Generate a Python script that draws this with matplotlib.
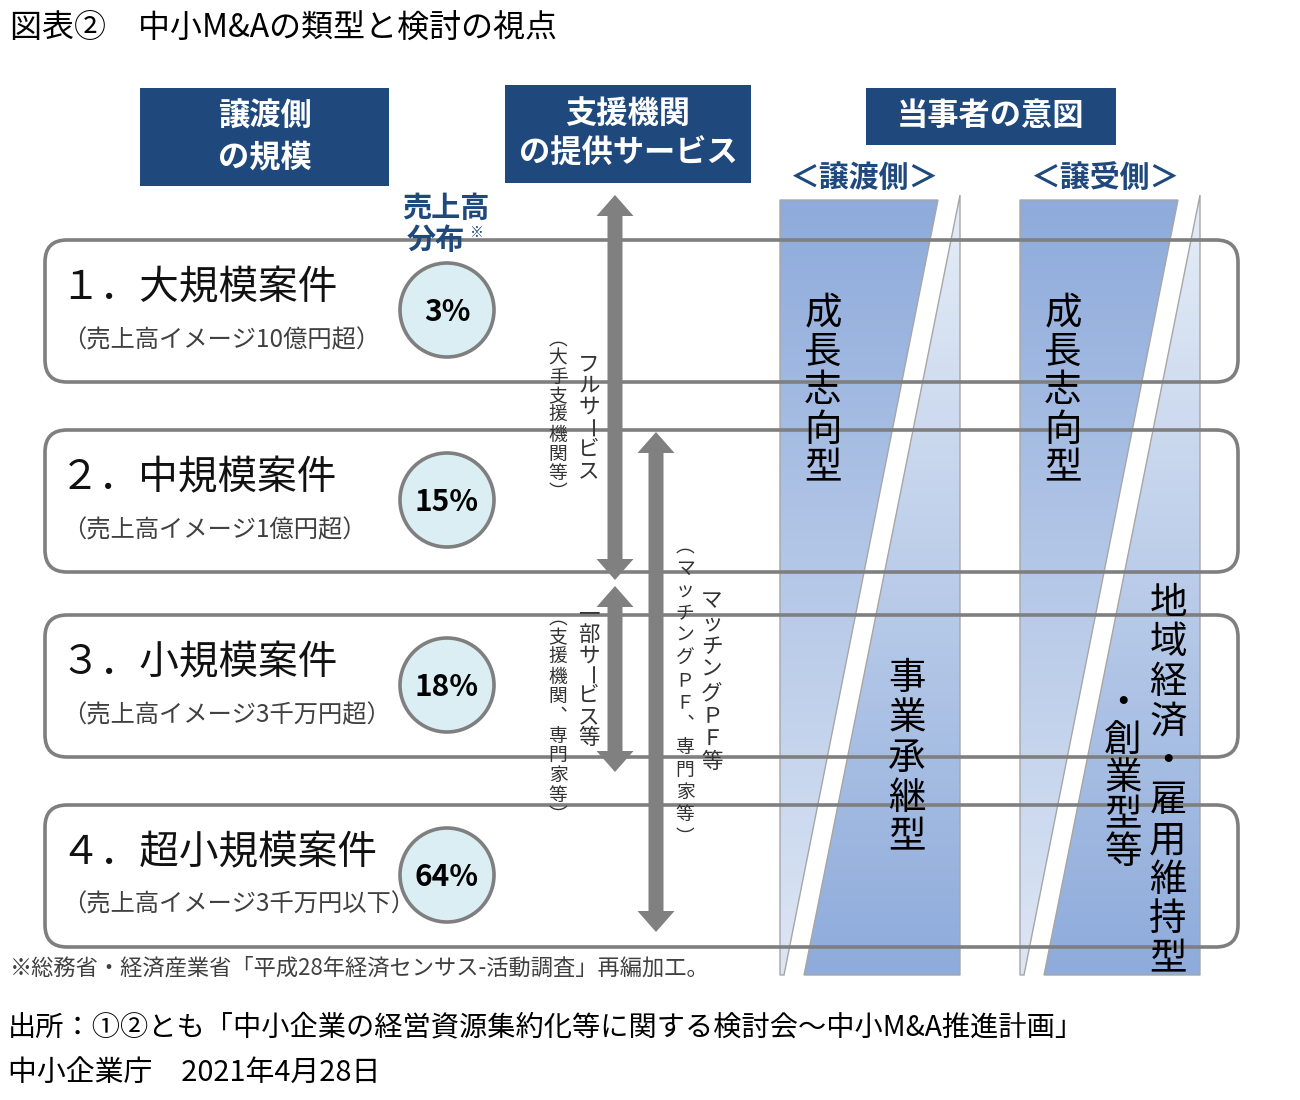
import numpy as np
import matplotlib
matplotlib.use("Agg")
import matplotlib.pyplot as plt
from matplotlib.patches import FancyBboxPatch, Circle, Rectangle, Polygon
from matplotlib.colors import LinearSegmentedColormap

plt.rcParams['font.family'] = ['Noto Sans CJK JP', 'DejaVu Sans']

# -----------------------------
# DATA
# -----------------------------
title = "図表②　中小M&Aの類型と検討の視点"
headers = ["譲渡側\nの規模", "支援機関\nの提供サービス", "当事者の意図"]
sides = ["＜譲渡側＞", "＜譲受側＞"]
share_label = ["売上高", "分布"]

case_titles = ["１．大規模案件", "２．中規模案件", "３．小規模案件", "４．超小規模案件"]
case_subs = ["（売上高イメージ10億円超）", "（売上高イメージ1億円超）",
             "（売上高イメージ3千万円超）", "（売上高イメージ3千万円以下）"]
sales_share = [3, 15, 18, 64]

services = ["フルサービス", "一部サービス等", "マッチングＰＦ等"]
service_notes = ["（大手支援機関等）", "（支援機関、専門家等）", "（マッチングＰＦ、専門家等）"]

seller_intent = ["成長志向型", "事業承継型"]
buyer_intent = ["成長志向型", "地域経済・雇用維持型", "・創業型等"]

footnote = "※総務省・経済産業省「平成28年経済センサス-活動調査」再編加工。"
source = ["出所：①②とも「中小企業の経営資源集約化等に関する検討会～中小M&A推進計画」",
          "中小企業庁　2021年4月28日"]

# -----------------------------
# LAYOUT / STYLE
# -----------------------------
NAVY = "#1F497D"
GRAY = "#7F7F7F"
DARK_BLUE = "#8EABDB"
LIGHT_BLUE = "#DDE6F4"

row_tops = [240, 430, 615, 805]
row_h = 142
row_x0, row_x1 = 45, 1238

# vertical-writing forms of some characters
VFORM = {"（": "︵", "）": "︶", "、": "︑"}

fig = plt.figure(figsize=(13, 11), dpi=100)
ax = fig.add_axes([0, 0, 1, 1])
ax.set_xlim(0, 1300)
ax.set_ylim(1100, 0)
ax.axis("off")


def vtext(x, y0, s, pitch, size, color="black", weight="normal", z=6):
    # stack characters top to bottom (Japanese vertical writing)
    for i, ch in enumerate(s):
        y = y0 + i * pitch
        rot = -90 if ch == "ー" else 0
        ch = VFORM.get(ch, ch)
        ax.text(x, y, ch, rotation=rot, rotation_mode="anchor",
                ha="center", va="center", fontsize=size, color=color,
                fontweight=weight, zorder=z)


def double_arrow(x, y_top, y_bot, shaft=15, head_w=37, head_l=21):
    pts = [(x, y_top), (x + head_w / 2, y_top + head_l), (x + shaft / 2, y_top + head_l),
           (x + shaft / 2, y_bot - head_l), (x + head_w / 2, y_bot - head_l), (x, y_bot),
           (x - head_w / 2, y_bot - head_l), (x - shaft / 2, y_bot - head_l),
           (x - shaft / 2, y_top + head_l), (x - head_w / 2, y_top + head_l)]
    ax.add_patch(Polygon(pts, closed=True, fc="#808080", ec="none", zorder=5))


def grad_poly(pts, c_top, c_bot, x0, x1, y_top, y_bot):
    poly = Polygon(pts, closed=True, fc="none", ec="#A6A6A6", lw=1, zorder=2)
    ax.add_patch(poly)
    cmap = LinearSegmentedColormap.from_list("g", [c_top, c_bot])
    grad = np.linspace(0, 1, 256)[:, None]
    im = ax.imshow(grad, cmap=cmap, extent=(x0, x1, y_bot, y_top), origin="upper",
                   aspect="auto", zorder=1, interpolation="bilinear")
    im.set_clip_path(poly)


# title
ax.text(10, 28, title, fontsize=23, ha="left", va="center")

# header boxes
for (x0, y0, w, h), txt in zip([(140, 88, 249, 98), (505, 85, 246, 98), (866, 88, 250, 57)], headers):
    ax.add_patch(Rectangle((x0, y0), w, h, fc=NAVY, ec="none", zorder=3))
    lines = txt.split("\n")
    for j, ln in enumerate(lines):
        yy = y0 + h / 2 + (j - (len(lines) - 1) / 2) * 40
        ax.text(x0 + w / 2, yy, ln, color="white", fontsize=22.5, fontweight="bold",
                ha="center", va="center", zorder=4)

for cx, s in zip([865, 1106], sides):
    ax.text(cx, 178, s, color=NAVY, fontsize=21.5, fontweight="bold", ha="center", va="center")

ax.text(446, 208, share_label[0], color=NAVY, fontsize=21, fontweight="bold", ha="center", va="center")
ax.text(436, 240, share_label[1], color=NAVY, fontsize=21, fontweight="bold", ha="center", va="center", zorder=6)
ax.text(477, 233, "※", color=NAVY, fontsize=10, ha="center", va="center", zorder=6)

# intent columns (gradient shapes split by a white slash)
for off in [0, 240]:
    x0, x1 = 780 + off, 960 + off
    grad_poly([(x0, 200), (938 + off, 200), (784 + off, 975), (x0, 975)],
              DARK_BLUE, LIGHT_BLUE, x0, x1, 200, 975)
    grad_poly([(x1, 195), (x1, 975), (804 + off, 975)],
              "#E6EDF7", DARK_BLUE, x0, x1, 195, 975)

# row boxes
for top, t, sub, pct in zip(row_tops, case_titles, case_subs, sales_share):
    ax.add_patch(FancyBboxPatch((row_x0, top), row_x1 - row_x0, row_h,
                                boxstyle="round,pad=0,rounding_size=22",
                                fc="none", ec=GRAY, lw=2.6, zorder=3))
    ax.text(60, top + 48, t, fontsize=28.5, ha="left", va="center", color="#111111", zorder=6)
    ax.text(62, top + 100, sub, fontsize=17.5, ha="left", va="center", color="#404040", zorder=6)
    ax.add_patch(Circle((447, top + 70), 47, fc="#DAEEF3", ec=GRAY, lw=2.6, zorder=4))
    ax.text(447, top + 72, f"{pct}%", fontsize=21.5, fontweight="bold", ha="center",
            va="center", zorder=6)

# service arrows
double_arrow(615, 195, 580)
double_arrow(615, 586, 772)
double_arrow(656, 432, 932)

vtext(589, 364, services[0], 21.5, 15.5, "#333333")
vtext(558, 339, service_notes[0], 19.2, 13.5, "#333333")
vtext(589, 614, services[1], 20.6, 15.5, "#333333")
vtext(558, 618, service_notes[1], 19.7, 13.5, "#333333")
vtext(712, 601, services[2], 23, 15.5, "#333333")
vtext(685, 546, service_notes[2], 22.4, 13.5, "#333333")

# intent labels
vtext(823, 313, seller_intent[0], 39, 27)
vtext(907, 678, seller_intent[1], 40, 27)
vtext(1063, 313, buyer_intent[0], 39, 27)
vtext(1168, 603, buyer_intent[1], 39.6, 27)
vtext(1123, 703, buyer_intent[2], 37.5, 27)

# notes
ax.text(10, 968, footnote, fontsize=16, ha="left", va="center", color="#404040")
ax.text(8, 1027, source[0], fontsize=20.3, ha="left", va="center")
ax.text(8, 1073, source[1], fontsize=20.8, ha="left", va="center")

ax.set_xlim(0, 1300)
ax.set_ylim(1100, 0)
fig.savefig("out.png", dpi=100, facecolor="white")
